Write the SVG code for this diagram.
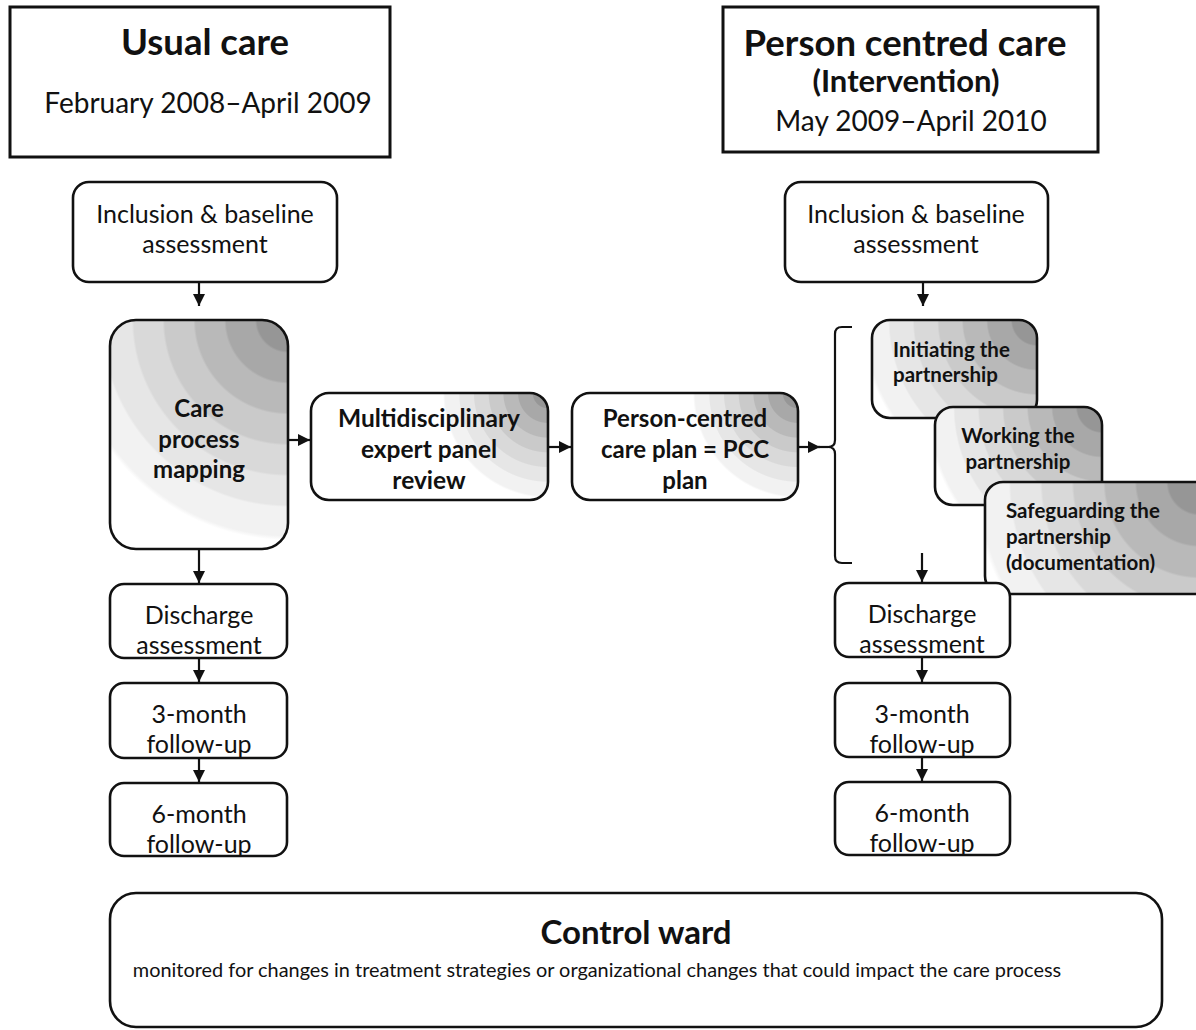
<svg xmlns="http://www.w3.org/2000/svg" xmlns:xlink="http://www.w3.org/1999/xlink" width="1196" height="1030" viewBox="0 0 1196 1030">
  <style>
    text { font-family: Lato, "Open Sans", "Liberation Sans", sans-serif; fill: #111; }
    .reg { font-size: 25px; text-anchor: middle; }
    .bold { font-weight: bold; }
    .mid { text-anchor: middle; }
    .box { fill: #fff; stroke: #111; stroke-width: 2.6; }
    .frame { fill: #fff; stroke: #111; stroke-width: 3; }
    .conn line, .conn path { stroke: #111; stroke-width: 2.2; fill: none; }
  </style>
  <defs>
    <marker id="arrow" markerUnits="userSpaceOnUse" markerWidth="12" markerHeight="12" viewBox="0 0 12 12" refX="12" refY="6" orient="auto">
      <path d="M0,0 L12,6 L0,12 z" fill="#111"/>
    </marker>
    <!-- stepped grey bands radiating from a box's top-right corner -->
    <radialGradient id="bands">
      <stop offset="0" stop-color="#969696"/>
      <stop offset="0.14" stop-color="#969696"/>
      <stop offset="0.15" stop-color="#a8a8a8"/>
      <stop offset="0.28" stop-color="#a8a8a8"/>
      <stop offset="0.29" stop-color="#b9b9b9"/>
      <stop offset="0.42" stop-color="#b9b9b9"/>
      <stop offset="0.43" stop-color="#cacaca"/>
      <stop offset="0.56" stop-color="#cacaca"/>
      <stop offset="0.57" stop-color="#d9d9d9"/>
      <stop offset="0.70" stop-color="#d9d9d9"/>
      <stop offset="0.71" stop-color="#e6e6e6"/>
      <stop offset="0.84" stop-color="#e6e6e6"/>
      <stop offset="0.85" stop-color="#f2f2f2"/>
      <stop offset="0.98" stop-color="#f2f2f2"/>
      <stop offset="1" stop-color="#ffffff"/>
    </radialGradient>
    <radialGradient id="g-care" xlink:href="#bands" gradientUnits="userSpaceOnUse" cx="288" cy="320" r="220"/>
    <radialGradient id="g-panel" xlink:href="#bands" gradientUnits="userSpaceOnUse" cx="548" cy="393" r="105"/>
    <radialGradient id="g-pcc" xlink:href="#bands" gradientUnits="userSpaceOnUse" cx="798" cy="393" r="105"/>
    <radialGradient id="g-init" xlink:href="#bands" gradientUnits="userSpaceOnUse" cx="1037" cy="320" r="175"/>
    <radialGradient id="g-work" xlink:href="#bands" gradientUnits="userSpaceOnUse" cx="1102" cy="407" r="175"/>
    <radialGradient id="g-safe" xlink:href="#bands" gradientUnits="userSpaceOnUse" cx="1200" cy="482" r="225"/>
  </defs>

  <rect width="1196" height="1030" fill="#fff"/>

  <!-- period headers -->
  <g id="usual-care-header">
    <rect class="frame" x="10" y="7" width="380" height="150"/>
    <text class="bold mid" x="205" y="55" font-size="36.5">Usual care</text>
    <text class="mid" x="208" y="113" font-size="28">February 2008–April 2009</text>
  </g>
  <g id="pcc-header">
    <rect class="frame" x="723" y="7" width="375" height="145"/>
    <text class="bold mid" x="905" y="56" font-size="36.5">Person centred care</text>
    <text class="bold mid" x="906" y="92" font-size="31">(Intervention)</text>
    <text class="mid" x="911" y="131" font-size="28">May 2009–April 2010</text>
  </g>

  <!-- usual care pathway -->
  <g id="inclusion-left">
    <rect class="box" x="73" y="182" width="264" height="100" rx="16"/>
    <text class="reg" x="205" y="223">Inclusion &amp; baseline</text>
    <text class="reg" x="205" y="253">assessment</text>
  </g>
  <g id="care-process-mapping">
    <rect class="box" x="110" y="320" width="178" height="229" rx="26" style="fill:url(#g-care)"/>
    <text class="bold mid" x="199" y="417" font-size="24">Care</text>
    <text class="bold mid" x="199" y="448" font-size="24">process</text>
    <text class="bold mid" x="199" y="478" font-size="24">mapping</text>
  </g>
  <g id="discharge-left">
    <rect class="box" x="110" y="584" width="177" height="74" rx="14"/>
    <text class="reg" x="199" y="624">Discharge</text>
    <text class="reg" x="199" y="654">assessment</text>
  </g>
  <g id="followup3-left">
    <rect class="box" x="110" y="683" width="177" height="75" rx="14"/>
    <text class="reg" x="199" y="723">3-month</text>
    <text class="reg" x="199" y="753">follow-up</text>
  </g>
  <g id="followup6-left">
    <rect class="box" x="110" y="783" width="177" height="73" rx="14"/>
    <text class="reg" x="199" y="823">6-month</text>
    <text class="reg" x="199" y="853">follow-up</text>
  </g>

  <!-- development steps -->
  <g id="expert-panel">
    <rect class="box" x="311" y="393" width="237" height="107" rx="18" style="fill:url(#g-panel)"/>
    <text class="bold mid" x="429" y="427" font-size="24.5">Multidisciplinary</text>
    <text class="bold mid" x="429" y="458" font-size="24.5">expert panel</text>
    <text class="bold mid" x="429" y="489" font-size="24.5">review</text>
  </g>
  <g id="pcc-plan">
    <rect class="box" x="572" y="393" width="226" height="107" rx="18" style="fill:url(#g-pcc)"/>
    <text class="bold mid" x="685" y="427" font-size="24">Person-centred</text>
    <text class="bold mid" x="685" y="458" font-size="24">care plan = PCC</text>
    <text class="bold mid" x="685" y="489" font-size="24">plan</text>
  </g>

  <!-- intervention pathway -->
  <g id="inclusion-right">
    <rect class="box" x="785" y="182" width="263" height="100" rx="16"/>
    <text class="reg" x="916" y="223">Inclusion &amp; baseline</text>
    <text class="reg" x="916" y="253">assessment</text>
  </g>
  <g id="initiating">
    <rect class="box" x="872" y="320" width="165" height="98" rx="18" style="fill:url(#g-init)"/>
    <text class="bold" x="893" y="357" font-size="20.5">Initiating the</text>
    <text class="bold" x="893" y="382" font-size="20.5">partnership</text>
  </g>
  <g id="working">
    <rect class="box" x="935" y="407" width="167" height="98" rx="18" style="fill:url(#g-work)"/>
    <text class="bold mid" x="1018" y="443" font-size="20.5">Working the</text>
    <text class="bold mid" x="1018" y="469" font-size="20.5">partnership</text>
  </g>
  <g id="safeguarding">
    <rect class="box" x="985" y="482" width="240" height="112" rx="18" style="fill:url(#g-safe)"/>
    <text class="bold" x="1006" y="518" font-size="20.5">Safeguarding the</text>
    <text class="bold" x="1006" y="544" font-size="20.5">partnership</text>
    <text class="bold" x="1006" y="570" font-size="20.5">(documentation)</text>
  </g>
  <g id="discharge-right">
    <rect class="box" x="835" y="583" width="175" height="74" rx="14"/>
    <text class="reg" x="922" y="623">Discharge</text>
    <text class="reg" x="922" y="653">assessment</text>
  </g>
  <g id="followup3-right">
    <rect class="box" x="835" y="683" width="175" height="74" rx="14"/>
    <text class="reg" x="922" y="723">3-month</text>
    <text class="reg" x="922" y="753">follow-up</text>
  </g>
  <g id="followup6-right">
    <rect class="box" x="835" y="782" width="175" height="73" rx="14"/>
    <text class="reg" x="922" y="822">6-month</text>
    <text class="reg" x="922" y="852">follow-up</text>
  </g>

  <!-- control ward -->
  <g id="control-ward">
    <rect class="box" x="110" y="893" width="1052" height="134" rx="26"/>
    <text class="bold mid" x="636" y="944" font-size="33">Control ward</text>
    <text class="mid" x="597" y="977" font-size="19.9">monitored for changes in treatment strategies or organizational changes that could impact the care process</text>
  </g>

  <!-- connectors -->
  <g id="connectors" class="conn">
    <line x1="199" y1="283" x2="199" y2="306" marker-end="url(#arrow)"/>
    <line x1="199" y1="550" x2="199" y2="583" marker-end="url(#arrow)"/>
    <line x1="199" y1="659" x2="199" y2="682" marker-end="url(#arrow)"/>
    <line x1="199" y1="759" x2="199" y2="782" marker-end="url(#arrow)"/>
    <line x1="289" y1="440" x2="310" y2="440" marker-end="url(#arrow)"/>
    <line x1="549" y1="447" x2="571" y2="447" marker-end="url(#arrow)"/>
    <line x1="799" y1="447" x2="820" y2="447" marker-end="url(#arrow)"/>
    <line x1="818" y1="447" x2="828" y2="447"/>
    <!-- brace grouping the partnership steps -->
    <path d="M852,327 L842,327 Q835,327 835,334 L835,440 Q835,447 828,447 Q835,447 835,454 L835,556 Q835,563 842,563 L852,563"/>
    <line x1="923" y1="283" x2="923" y2="306" marker-end="url(#arrow)"/>
    <line x1="922" y1="553" x2="922" y2="582" marker-end="url(#arrow)"/>
    <line x1="922" y1="658" x2="922" y2="682" marker-end="url(#arrow)"/>
    <line x1="922" y1="758" x2="922" y2="781" marker-end="url(#arrow)"/>
  </g>
</svg>
